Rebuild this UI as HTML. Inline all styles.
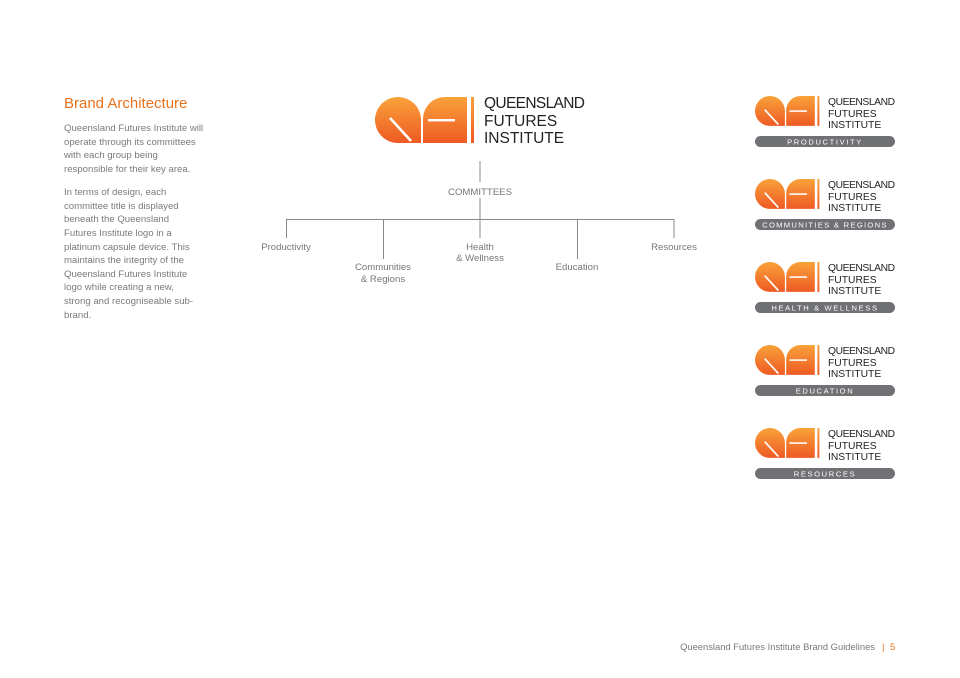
<!DOCTYPE html>
<html><head><meta charset="utf-8"><style>
html,body{margin:0;padding:0;background:#fff}
svg{display:block}
</style></head><body>
<svg width="960" height="678" viewBox="0 0 960 678" xmlns="http://www.w3.org/2000/svg" font-family="Liberation Sans, sans-serif">
<defs>
<linearGradient id="g" x1="0" y1="0" x2="0" y2="1">
<stop offset="0" stop-color="#f9a23a"/><stop offset="1" stop-color="#ee5a24"/>
</linearGradient>
<g id="mark">
<path d="M23,0 A23,23 0 0 1 46,23 L46,46 L23,46 A23,23 0 0 1 23,0 Z" fill="url(#g)"/>
<line x1="15" y1="21" x2="36" y2="44" stroke="#fff" stroke-width="2.6"/>
<path d="M70,0 L92,0 L92,46 L48,46 L48,22 A22,22 0 0 1 70,0 Z" fill="url(#g)"/>
<rect x="53" y="22" width="27" height="2.4" fill="#fff"/>
<rect x="96" y="0" width="3" height="46" fill="url(#g)"/>
</g>
<g id="small">
<use href="#mark" transform="translate(755,96) scale(0.65)"/>
<g font-size="10.3" fill="#222" text-anchor="start" letter-spacing="0">
<text x="828" y="105" textLength="67">QUEENSLAND</text>
<text x="828" y="117">FUTURES</text>
<text x="828" y="128">INSTITUTE</text>
</g>
<rect x="755" y="136" width="140" height="11" rx="5.5" fill="#707174"/>
</g>
</defs>
<rect width="960" height="678" fill="#fff"/>

<text x="64" y="108" font-size="15" fill="#e8731c">Brand Architecture</text>
<g font-size="9.6" fill="#7a7a7a">
<text x="64" y="131">Queensland Futures Institute will</text>
<text x="64" y="145">operate through its committees</text>
<text x="64" y="158">with each group being</text>
<text x="64" y="172">responsible for their key area.</text>
<text x="64" y="195">In terms of design, each</text>
<text x="64" y="209">committee title is displayed</text>
<text x="64" y="222">beneath the Queensland</text>
<text x="64" y="236">Futures Institute logo in a</text>
<text x="64" y="250">platinum capsule device. This</text>
<text x="64" y="263">maintains the integrity of the</text>
<text x="64" y="277">Queensland Futures Institute</text>
<text x="64" y="290">logo while creating a new,</text>
<text x="64" y="304">strong and recogniseable sub-</text>
<text x="64" y="318">brand.</text>
</g>

<use href="#mark" transform="translate(375,97)"/>
<g font-size="15.5" fill="#222">
<text x="484" y="108" textLength="101">QUEENSLAND</text>
<text x="484" y="126">FUTURES</text>
<text x="484" y="143">INSTITUTE</text>
</g>

<g stroke="#888" stroke-width="1" fill="none">
<line x1="480" y1="161" x2="480" y2="182"/>
<line x1="480" y1="198" x2="480" y2="238"/>
<line x1="286" y1="219.5" x2="674" y2="219.5"/>
<line x1="286.5" y1="219" x2="286.5" y2="238"/>
<line x1="383.5" y1="219" x2="383.5" y2="259"/>
<line x1="577.5" y1="219" x2="577.5" y2="259"/>
<line x1="674" y1="219" x2="674" y2="238"/>
</g>
<g font-size="9.6" fill="#777" text-anchor="middle">
<text x="480" y="195">COMMITTEES</text>
<text x="286" y="250">Productivity</text>
<text x="383" y="270">Communities</text>
<text x="383" y="282">&amp; Regions</text>
<text x="480" y="250">Health</text>
<text x="480" y="261">&amp; Wellness</text>
<text x="577" y="270">Education</text>
<text x="674" y="250">Resources</text>
</g>

<use href="#small"/>
<g transform="translate(0,83)"><use href="#small"/></g>
<g transform="translate(0,166)"><use href="#small"/></g>
<g transform="translate(0,249)"><use href="#small"/></g>
<g transform="translate(0,332)"><use href="#small"/></g>
<g font-size="7.6" fill="#fff" text-anchor="middle" letter-spacing="1.6">
<text x="825" y="144.5">PRODUCTIVITY</text>
<text x="825" y="227.5" letter-spacing="1.3">COMMUNITIES &amp; REGIONS</text>
<text x="825" y="310.5">HEALTH &amp; WELLNESS</text>
<text x="825" y="393.5">EDUCATION</text>
<text x="825" y="476.5">RESOURCES</text>
</g>

<text x="875" y="650" font-size="9.4" fill="#7a7a7a" text-anchor="end">Queensland Futures Institute Brand Guidelines</text>
<text x="882" y="650" font-size="9.4" fill="#e8731c">|</text>
<text x="890" y="650" font-size="9.4" fill="#e8731c">5</text>
</svg>
</body></html>
